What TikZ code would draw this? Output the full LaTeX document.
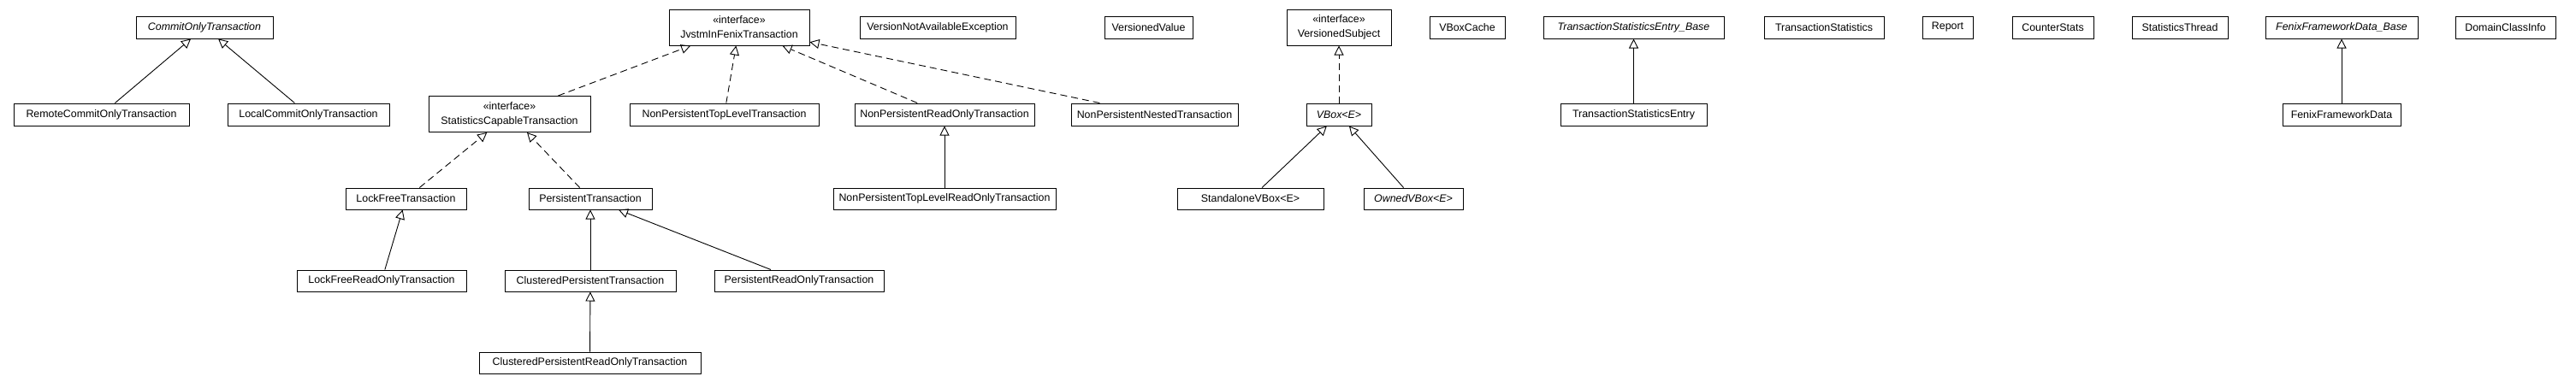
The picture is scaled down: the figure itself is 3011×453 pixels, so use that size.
\documentclass[tikz,border=0pt]{standalone}
\usepackage{fontspec}
\setmainfont{Liberation Sans}
\usetikzlibrary{arrows.meta}
\begin{document}
\begin{tikzpicture}
	[x=1pt,y=-1pt,
	cls/.style={draw,line width=1pt,rectangle,inner sep=0pt,minimum height=26pt,font=\fontsize{12.4}{17}\selectfont,align=center},
	iface/.style={cls,minimum height=42pt},
	abs/.style={cls,font=\fontsize{12.4}{17}\selectfont\itshape},
	gen/.style={line width=0.9pt,-{Triangle[open,length=11pt,width=11pt]}},
	real/.style={gen,dash pattern=on 8pt off 5pt}]
\useasboundingbox (0,0) rectangle (3011,453);
% top row
\node[abs,minimum width=160] (commitonly) at (239,32) {CommitOnlyTransaction};
\node[iface,minimum width=164] (jvstm) at (864,32) {«interface»\\JvstmInFenixTransaction};
\node[cls,minimum width=182] (versionna) at (1096,32) {VersionNotAvailableException};
\node[cls,minimum width=103] (versionedvalue) at (1342.5,32) {VersionedValue};
\node[iface,minimum width=122] (versionedsubject) at (1565,32) {«interface»\\VersionedSubject};
\node[cls,minimum width=88] (vboxcache) at (1715,32) {VBoxCache};
\node[abs,minimum width=211] (tsebase) at (1909.5,32) {TransactionStatisticsEntry\_Base};
\node[cls,minimum width=140] (txstats) at (2132,32) {TransactionStatistics};
\node[cls,minimum width=59] (report) at (2276.5,32) {Report};
\node[cls,minimum width=95] (counterstats) at (2399.5,32) {CounterStats};
\node[cls,minimum width=112] (statsthread) at (2548,32) {StatisticsThread};
\node[abs,minimum width=178] (ffdbase) at (2737,32) {FenixFrameworkData\_Base};
\node[cls,minimum width=117] (domainclassinfo) at (2928.5,32) {DomainClassInfo};
% second row
\node[cls,minimum width=205] (remote) at (118.5,134) {RemoteCommitOnlyTransaction};
\node[cls,minimum width=189] (local) at (360.5,134) {LocalCommitOnlyTransaction};
\node[iface,minimum width=189] (statscapable) at (595.5,133.5) {«interface»\\StatisticsCapableTransaction};
\node[cls,minimum width=221] (nptoplevel) at (846.5,134) {NonPersistentTopLevelTransaction};
\node[cls,minimum width=210] (npreadonly) at (1104,134) {NonPersistentReadOnlyTransaction};
\node[cls,minimum width=195] (npnested) at (1349.5,134) {NonPersistentNestedTransaction};
\node[abs,minimum width=76] (vbox) at (1565,134) {VBox<E>};
\node[cls,minimum width=171] (tse) at (1909.5,134) {TransactionStatisticsEntry};
\node[cls,minimum width=138] (ffd) at (2737,134) {FenixFrameworkData};
% third row
\node[cls,minimum width=141,minimum height=25] (lockfree) at (474.5,232.5) {LockFreeTransaction};
\node[cls,minimum width=144,minimum height=25] (persistent) at (690,232.5) {PersistentTransaction};
\node[cls,minimum width=260,minimum height=25] (nptoplevelro) at (1104,232.5) {NonPersistentTopLevelReadOnlyTransaction};
\node[cls,minimum width=171,minimum height=25] (standalone) at (1461.5,232.5) {StandaloneVBox<E>};
\node[abs,minimum width=116,minimum height=25] (owned) at (1652,232.5) {OwnedVBox<E>};
% fourth and fifth rows
\node[cls,minimum width=198,minimum height=25] (lockfreero) at (446,328.5) {LockFreeReadOnlyTransaction};
\node[cls,minimum width=200,minimum height=25] (clustered) at (690,328.5) {ClusteredPersistentTransaction};
\node[cls,minimum width=198,minimum height=25] (persistentro) at (934,328.5) {PersistentReadOnlyTransaction};
\node[cls,minimum width=259,minimum height=25] (clusteredro) at (689.5,424.5) {ClusteredPersistentReadOnlyTransaction};
% generalisations
\draw[gen] (remote)--(commitonly);
\draw[gen] (local)--(commitonly);
\draw[gen] (lockfreero)--(lockfree);
\draw[gen] (clustered)--(persistent);
\draw[gen] (persistentro)--(persistent);
\draw[gen] (clusteredro)--(clustered);
\draw[gen] (nptoplevelro)--(npreadonly);
\draw[gen] (standalone)--(vbox);
\draw[gen] (owned)--(vbox);
\draw[gen] (tse)--(tsebase);
\draw[gen] (ffd)--(ffdbase);
% realisations
\draw[real] (statscapable)--(jvstm);
\draw[real] (nptoplevel)--(jvstm);
\draw[real] (npreadonly)--(jvstm);
\draw[real] (npnested)--(jvstm);
\draw[real] (lockfree)--(statscapable);
\draw[real] (persistent)--(statscapable);
\draw[real] (vbox)--(versionedsubject);
\end{tikzpicture}
\end{document}
